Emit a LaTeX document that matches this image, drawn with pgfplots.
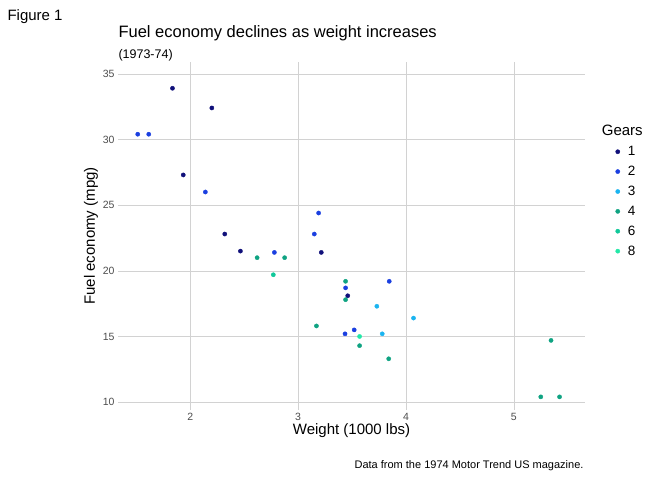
\documentclass[border=0pt]{standalone}
\usepackage{pgfplots}
\pgfplotsset{compat=1.18}
\usepackage{fontspec}
\setmainfont{Liberation Sans}
\definecolor{c1}{HTML}{10107A}
\definecolor{c2}{HTML}{1A3FE0}
\definecolor{c3}{HTML}{1AB4F0}
\definecolor{c4}{HTML}{0FA382}
\definecolor{c6}{HTML}{10C89A}
\definecolor{c8}{HTML}{22E8A8}
\definecolor{tk}{HTML}{4D4D4D}
\begin{document}
\begin{tikzpicture}
\useasboundingbox (0,0) rectangle (672pt,480pt);
\node[anchor=north west,font=\fontsize{15}{17}\selectfont] at (4pt,474pt) {Figure 1};
\node[anchor=north west,font=\fontsize{16.5}{19}\selectfont] at (115pt,458pt) {Fuel economy declines as weight increases};
\node[anchor=north west,font=\fontsize{12.5}{14}\selectfont] at (115pt,434pt) {(1973-74)};
\node[anchor=south east,font=\fontsize{11}{12}\selectfont] at (587pt,6pt) {Data from the 1974 Motor Trend US magazine.};
\begin{axis}[at={(118pt,70pt)},anchor=south west,width=467pt,height=348pt,scale only axis,
xmin=1.33,xmax=5.66,ymin=9.4,ymax=35.9,
axis line style={draw=none},tick style={draw=none},
grid=major,major grid style={gray!35,line width=0.6pt},
xtick={2,3,4,5},ytick={10,15,20,25,30,35},
tick label style={font=\fontsize{10.5}{12}\selectfont,text=tk},
/pgf/number format/assume math mode=true,
xlabel={Weight (1000 lbs)},ylabel={Fuel economy (mpg)},
label style={font=\fontsize{15}{17}\selectfont},
xlabel style={yshift=4pt},ylabel style={yshift=-2pt},
legend style={at={(1.045,0.83)},anchor=north west,draw=none,font=\fontsize{13.5}{15}\selectfont,row sep=5pt,
  nodes={inner xsep=8pt}},
legend cell align=left,
]
\addlegendimage{empty legend}\addlegendentry{\hspace{-26pt}\fontsize{15}{17}\selectfont Gears}
\addplot[only marks,mark=*,mark size=2.1pt,c1] coordinates {(2.320,22.8)(3.215,21.4)(3.460,18.1)(2.200,32.4)(1.835,33.9)(2.465,21.5)(1.935,27.3)};
\addlegendentry{1}
\addplot[only marks,mark=*,mark size=2.1pt,c2] coordinates {(3.440,18.7)(3.190,24.4)(3.150,22.8)(1.615,30.4)(3.520,15.5)(3.435,15.2)(3.845,19.2)(2.140,26.0)(1.513,30.4)(2.780,21.4)};
\addlegendentry{2}
\addplot[only marks,mark=*,mark size=2.1pt,c3] coordinates {(4.070,16.4)(3.730,17.3)(3.780,15.2)};
\addlegendentry{3}
\addplot[only marks,mark=*,mark size=2.1pt,c4] coordinates {(2.620,21.0)(2.875,21.0)(3.570,14.3)(3.440,19.2)(3.440,17.8)(5.250,10.4)(5.424,10.4)(5.345,14.7)(3.840,13.3)(3.170,15.8)};
\addlegendentry{4}
\addplot[only marks,mark=*,mark size=2.1pt,c6] coordinates {(2.770,19.7)};
\addlegendentry{6}
\addplot[only marks,mark=*,mark size=2.1pt,c8] coordinates {(3.570,15.0)};
\addlegendentry{8}
\end{axis}
\end{tikzpicture}
\end{document}
